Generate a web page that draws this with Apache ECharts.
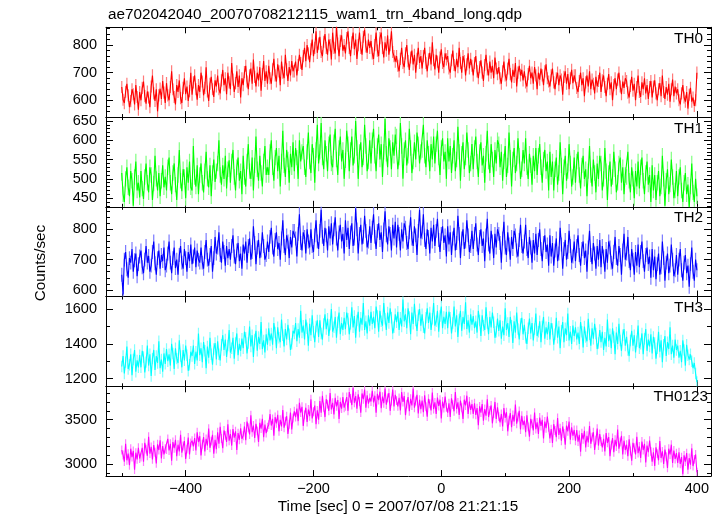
<!DOCTYPE html>
<html>
<head>
<meta charset="utf-8">
<script src="https://cdn.jsdelivr.net/npm/echarts@6/dist/echarts.min.js"></script>
<style>
html,body{margin:0;padding:0;background:#fff;}
#chart{width:724px;height:516px;}
</style>
</head>
<body>
<div id="chart"></div>
<script>
// Time sampling (sec): first bin and bin step
const T_START = -500;
const T_STEP = 2;

// Counts/sec, one array per band
const th0 = [
648,602,590,631,660,618,575,597,640,622,585,655,612,566,630,
600,645,668,615,588,632,610,575,650,690,625,598,640,560,618,642,605,670,628,590,
662,618,600,648,705,640,612,585,655,630,672,608,590,645,680,622,650,598,633,700,
620,665,690,640,602,655,630,700,668,618,645,720,632,598,660,685,640,612,672,650,
690,640,625,672,710,655,680,622,700,665,640,735,675,630,662,705,648,690,610,680,
655,702,725,668,640,690,715,660,748,685,650,700,672,720,635,695,742,670,705,660,
725,680,660,712,750,690,668,730,705,655,740,700,680,765,712,670,720,690,742,705,
705,740,690,728,765,735,710,760,790,742,800,770,738,785,820,760,790,850,772,805,
830,775,760,812,840,790,765,820,800,748,845,790,770,868,805,760,815,835,780,800,
770,825,850,790,760,810,845,785,820,750,800,845,790,765,830,855,795,772,820,790,
815,770,750,800,845,780,760,825,845,790,755,810,780,835,765,800,850,775,760,740,
760,725,705,750,790,735,720,770,800,742,710,755,780,730,765,700,750,790,735,760,
715,760,790,735,705,748,772,730,810,745,712,765,740,700,755,785,735,720,770,748,
760,715,700,745,780,728,705,750,720,790,735,700,760,742,690,730,770,715,750,725,
690,735,760,705,680,720,745,700,670,728,765,712,690,740,700,725,680,755,715,695,
720,680,660,705,740,690,672,715,750,695,665,710,685,735,650,700,725,690,710,672,
705,665,650,695,725,680,700,660,720,690,640,700,675,715,690,655,705,730,680,668,
650,690,715,665,640,680,700,655,690,675,620,685,705,660,695,640,680,710,662,690,
690,645,630,670,700,655,680,615,665,690,650,705,640,675,660,625,685,650,670,700,
630,672,690,648,615,660,695,640,665,600,655,680,640,675,700,650,622,668,645,680,
670,628,610,652,685,635,660,600,648,690,630,612,665,640,680,625,655,605,648,670,
610,650,672,625,600,640,662,615,690,630,605,648,620,660,595,640,675,615,650,625,
640,600,585,625,655,610,595,630,570,620,645,595,610,580,600,700
];
const th1 = [
515,460,440,500,530,478,455,520,495,430,505,545,470,490,452,
520,475,448,505,540,490,465,530,510,445,488,560,500,470,515,455,495,535,478,505,
470,530,555,490,460,515,540,485,445,510,575,495,468,525,505,450,530,490,545,478,
470,585,505,480,535,460,510,540,490,465,520,570,500,478,535,455,515,550,492,520,
540,600,510,485,535,500,560,475,525,548,490,545,575,505,470,530,555,495,520,460,
560,505,480,545,590,520,500,555,470,535,610,525,495,560,515,480,545,585,510,530,
510,570,600,530,495,555,580,520,560,480,545,625,535,505,575,550,490,565,530,595,
520,580,555,500,600,545,570,585,530,505,570,620,545,515,590,560,490,575,640,540,
570,645,555,525,600,565,520,590,615,540,530,595,630,550,510,580,610,545,575,500,
548,625,590,520,575,610,535,560,650,580,500,570,595,530,555,640,585,520,545,600,
540,600,630,560,520,585,615,550,590,505,570,655,565,530,605,580,525,595,560,615,
610,525,555,645,585,500,575,600,535,560,630,580,515,545,595,550,620,590,540,570,
575,640,560,530,600,565,520,590,550,610,540,590,625,555,510,580,605,545,570,500,
605,545,585,515,560,600,520,550,635,570,495,565,595,525,555,620,575,515,540,590,
525,580,610,545,505,570,595,535,560,490,565,625,545,515,590,550,505,575,540,600,
590,530,570,495,545,585,505,535,620,555,480,550,580,515,540,605,560,500,525,575,
540,605,530,500,565,535,485,560,520,580,510,560,590,530,490,550,575,520,545,470,
570,505,545,470,525,555,485,515,595,535,460,530,560,495,520,590,540,480,505,555,
490,545,570,510,475,535,560,500,525,455,520,585,510,480,550,515,465,540,500,560,
540,470,500,580,520,445,515,545,480,505,570,525,465,490,540,555,490,530,460,510,
505,570,495,465,530,500,450,520,480,545,475,530,555,495,460,515,545,485,510,440,
535,470,510,445,490,520,455,480,560,500,430,495,525,460,485,550,505,450,470,520,
455,505,530,470,440,490,515,460,485,425,480,540,465,440,500,455
];
const th2 = [
650,585,700,725,668,640,705,690,735,660,698,720,645,685,710,
730,675,655,700,745,690,712,660,680,725,760,688,650,705,730,670,715,695,740,665,
680,720,760,690,655,705,740,672,700,650,715,745,690,670,735,705,660,725,695,750,
685,710,740,675,730,700,690,740,690,670,725,765,700,680,715,745,660,705,775,720,
740,790,715,690,760,725,680,745,705,735,700,745,780,710,685,730,755,695,720,670,
750,720,760,690,745,770,700,725,810,755,685,740,765,705,730,790,745,700,715,760,
725,775,805,740,710,765,790,735,755,700,770,830,745,715,780,760,705,775,740,795,
795,770,710,785,850,755,730,790,775,720,800,760,740,800,745,725,780,830,760,735,
795,865,775,745,805,780,730,810,770,820,750,800,840,770,730,790,815,760,785,720,
830,765,805,735,790,820,745,770,870,800,720,785,815,750,775,845,795,740,760,810,
755,805,850,775,735,795,820,765,790,725,800,860,780,750,810,785,730,815,770,825,
740,815,785,730,800,760,820,805,755,735,790,840,770,745,810,780,715,795,865,770,
790,850,765,735,800,775,720,805,760,815,745,795,835,765,725,785,810,755,780,710,
810,750,790,715,770,805,730,755,845,785,705,770,800,735,760,830,780,725,745,795,
735,785,820,750,715,775,800,745,770,695,780,835,750,720,795,760,705,785,740,800,
785,755,690,770,825,740,715,790,750,700,775,735,795,780,730,710,765,815,745,720,
760,815,735,705,775,740,690,765,720,785,715,765,800,735,695,755,780,725,750,680,
780,710,755,680,730,770,695,720,805,750,670,735,765,700,725,795,745,690,710,760,
695,745,780,715,680,735,760,705,730,660,740,795,715,685,755,720,670,745,700,765,
675,745,710,660,735,690,760,740,690,670,725,775,705,680,745,715,650,730,785,700,
720,775,695,665,735,700,650,725,680,750,675,725,760,695,660,715,740,685,710,640,
735,665,710,635,685,720,650,675,760,705,630,690,720,655,680,750,700,645,665,715,
650,700,735,665,630,690,715,655,680,610,685,740,660,630,700,665
];
const th3 = [
1270,1330,1230,1295,1385,1255,1280,1340,1220,1310,1365,1240,1305,1265,1335,
1265,1360,1325,1235,1295,1390,1275,1340,1215,1315,1365,1250,1330,1290,1415,1260,1310,1240,1345,1285,
1370,1300,1340,1275,1400,1345,1255,1375,1315,1290,1420,1330,1265,1365,1305,1390,1335,1245,1280,1355,
1330,1390,1285,1355,1305,1460,1335,1375,1295,1410,1360,1260,1385,1320,1435,1340,1280,1370,1405,1310,
1415,1340,1305,1395,1450,1365,1425,1325,1390,1480,1350,1375,1435,1315,1405,1460,1335,1400,1360,1430,
1375,1470,1435,1345,1405,1500,1385,1450,1325,1425,1475,1360,1440,1400,1525,1370,1420,1350,1455,1395,
1490,1420,1460,1395,1520,1465,1375,1495,1435,1410,1540,1450,1385,1485,1425,1510,1455,1365,1400,1475,
1460,1520,1415,1485,1435,1590,1465,1505,1425,1540,1490,1390,1515,1450,1565,1470,1410,1500,1535,1440,
1535,1460,1425,1515,1570,1485,1545,1445,1510,1600,1470,1495,1555,1435,1525,1580,1455,1520,1480,1550,
1485,1580,1545,1455,1515,1610,1495,1560,1435,1535,1585,1470,1550,1510,1635,1480,1530,1460,1565,1505,
1585,1515,1555,1490,1615,1560,1470,1590,1530,1505,1635,1545,1480,1580,1520,1605,1550,1460,1495,1570,
1525,1585,1480,1550,1500,1655,1530,1570,1490,1605,1555,1455,1580,1515,1630,1535,1475,1565,1600,1505,
1570,1495,1460,1550,1605,1520,1580,1480,1545,1635,1505,1530,1590,1470,1560,1615,1490,1555,1515,1585,
1490,1585,1550,1460,1520,1615,1500,1565,1440,1540,1590,1475,1555,1515,1640,1485,1535,1465,1570,1510,
1560,1490,1530,1465,1590,1535,1445,1565,1505,1480,1610,1520,1455,1555,1495,1580,1525,1435,1470,1545,
1475,1535,1430,1500,1450,1605,1480,1520,1440,1555,1505,1405,1530,1465,1580,1485,1425,1515,1550,1455,
1510,1435,1400,1490,1545,1460,1520,1420,1485,1575,1445,1470,1530,1410,1500,1555,1430,1495,1455,1525,
1425,1520,1485,1395,1455,1550,1435,1500,1375,1475,1525,1410,1490,1450,1575,1420,1470,1400,1505,1445,
1495,1425,1465,1400,1525,1470,1380,1500,1440,1415,1545,1455,1390,1490,1430,1515,1460,1370,1405,1480,
1410,1470,1365,1435,1385,1540,1415,1455,1375,1490,1440,1340,1465,1400,1515,1420,1360,1450,1485,1390,
1440,1365,1330,1420,1475,1390,1450,1350,1415,1505,1375,1400,1460,1340,1430,1485,1360,1425,1385,1455,
1345,1440,1405,1315,1375,1470,1355,1420,1295,1395,1445,1330,1410,1370,1495,1340,1390,1320,1425,1365,
1390,1320,1360,1295,1420,1365,1275,1395,1335,1310,1340,1300,1260,1290,1230,1180
];
const th0123 = [
3160,3105,3030,3230,3045,3120,2990,3175,3080,3150,2940,3130,3055,3185,3065,
3080,3185,3030,3240,3170,3095,3310,3120,3195,3055,3215,3135,3010,3225,3160,3270,3065,3205,3110,3175,
3165,3285,3155,3230,3040,3250,3180,3275,3090,3220,3145,3330,3130,3205,3260,3060,3170,3300,3110,3240,
3265,3200,3295,3155,3360,3250,3315,3100,3225,3305,3145,3285,3210,3400,3185,3260,3330,3120,3275,3170,
3360,3230,3420,3290,3180,3380,3325,3250,3450,3265,3340,3210,3395,3300,3370,3160,3350,3275,3405,3285,
3320,3425,3270,3480,3410,3335,3550,3360,3435,3295,3455,3375,3250,3465,3400,3510,3305,3445,3350,3415,
3445,3565,3435,3510,3320,3530,3460,3555,3370,3500,3425,3610,3410,3485,3540,3340,3450,3580,3390,3520,
3595,3530,3625,3485,3690,3580,3645,3430,3555,3635,3475,3615,3540,3730,3515,3590,3660,3450,3605,3500,
3710,3580,3770,3640,3530,3730,3675,3600,3800,3615,3690,3560,3745,3650,3720,3510,3700,3625,3755,3635,
3650,3755,3600,3810,3740,3665,3860,3690,3765,3625,3785,3705,3580,3795,3730,3840,3635,3775,3680,3745,
3705,3825,3695,3770,3580,3790,3720,3815,3630,3760,3685,3850,3670,3745,3800,3600,3710,3840,3650,3780,
3715,3650,3745,3605,3810,3700,3765,3550,3675,3755,3595,3735,3660,3850,3635,3710,3780,3570,3725,3620,
3715,3585,3775,3645,3535,3735,3680,3605,3805,3620,3695,3565,3750,3655,3725,3515,3705,3630,3760,3640,
3580,3685,3530,3740,3670,3595,3810,3620,3695,3555,3715,3635,3510,3725,3660,3770,3565,3705,3610,3675,
3565,3685,3555,3630,3440,3650,3580,3675,3490,3620,3545,3730,3530,3605,3660,3460,3570,3700,3510,3640,
3535,3470,3565,3425,3630,3520,3585,3370,3495,3575,3415,3555,3480,3670,3455,3530,3600,3390,3545,3440,
3490,3360,3550,3420,3310,3510,3455,3380,3580,3395,3470,3340,3525,3430,3500,3290,3480,3405,3535,3415,
3290,3395,3240,3450,3380,3305,3520,3330,3405,3265,3425,3345,3220,3435,3370,3480,3275,3415,3320,3385,
3265,3385,3255,3330,3140,3350,3280,3375,3190,3320,3245,3430,3230,3305,3360,3160,3270,3400,3210,3340,
3255,3190,3285,3145,3350,3240,3305,3090,3215,3295,3135,3275,3200,3390,3175,3250,3320,3110,3265,3160,
3220,3090,3280,3150,3040,3240,3185,3110,3310,3125,3200,3070,3255,3160,3230,3020,3210,3135,3265,3145,
3030,3135,2980,3190,3120,3045,3260,3070,3145,3005,3165,3085,2960,3175,3110,3220,3015,3155,3060,3125,
3015,3135,3005,3080,2890,3100,3030,3125,2940,3070,2995,3180,2980,3055,3110,2910
];
// Half-length of the error bar drawn at each bin, per band
const bandErr = [22, 20, 23, 33, 50];

const bandNames = ['TH0', 'TH1', 'TH2', 'TH3', 'TH0123'];
const bandData = [th0, th1, th2, th3, th0123];

// Tick labels
const xMajorTicks = [-400, -200, 0, 200, 400];
const xMinorTicks = [-500, -300, -100, 100, 300];
const yMajorTicks = [
  [600, 700, 800],
  [450, 500, 550, 600, 650],
  [600, 700, 800],
  [1200, 1400, 1600],
  [3000, 3500]
];
const yMinorTicks = [
  [540,560,580,620,640,660,680,720,740,760,780,820,840,860],
  [430,440,460,470,480,490,510,520,530,540,560,570,580,590,610,620,630,640,660],
  [580,620,640,660,680,720,740,760,780,820,840,860],
  [1300,1500],
  [2900,3100,3200,3300,3400,3600,3700,3800]
];

// Styling / layout
const colors = ['#ff0000', '#00ff00', '#0000ff', '#00ffff', '#ff00ff'];
const errColors = ['#ff7a7a', '#80ff80', '#7a7aff', '#80ffff', '#ff80ff'];
const yRanges = [[539.3, 864.4], [427.5, 660.3], [577.9, 874.5], [1155.8, 1672.3], [2868, 3875.4]];
const xRange = [-524.7, 422.1];
const FONT = '"Liberation Sans", Arial, Helvetica, sans-serif';
const FS_TICK = 14.5;
const FS_TEXT = 15.3;
const TOP = 27.3, PH = 89.75, LEFT = 106, RIGHT = 13;

const chart = echarts.init(document.getElementById('chart'), null, {renderer: 'canvas'});

const grids = [], xAxes = [], yAxes = [], series = [], graphics = [];
const lineStyle = {color: '#000', width: 1};
const minus = v => (v < 0 ? '\u2212' + (-v) : String(v));

for (let i = 0; i < 5; i++) {
  const top = TOP + i * PH;
  grids.push({left: LEFT, right: RIGHT, top: top, height: PH, containLabel: false});
  const isLast = i === 4;
  ['bottom', 'top'].forEach(pos => {
    xAxes.push({
      type: 'value', gridIndex: i, position: pos, min: xRange[0], max: xRange[1],
      axisLine: {show: true, onZero: false, lineStyle: lineStyle},
      axisTick: {show: true, inside: true, length: 6, customValues: xMajorTicks, lineStyle: lineStyle},
      axisLabel: {show: isLast && pos === 'bottom', customValues: xMajorTicks, formatter: minus,
        color: '#000', fontSize: FS_TICK, fontFamily: FONT, margin: 5},
      splitLine: {show: false}
    });
    xAxes.push({
      type: 'value', gridIndex: i, position: pos, min: xRange[0], max: xRange[1],
      axisLine: {show: false, onZero: false},
      axisTick: {show: true, inside: true, length: 3, customValues: xMinorTicks, lineStyle: lineStyle},
      axisLabel: {show: false},
      splitLine: {show: false}
    });
  });
  ['left', 'right'].forEach(pos => {
    yAxes.push({
      type: 'value', gridIndex: i, position: pos, min: yRanges[i][0], max: yRanges[i][1],
      axisLine: {show: true, onZero: false, lineStyle: lineStyle},
      axisTick: {show: true, inside: true, length: 7, customValues: yMajorTicks[i], lineStyle: lineStyle},
      axisLabel: {show: pos === 'left', customValues: yMajorTicks[i], formatter: v => String(v),
        color: '#000', fontSize: FS_TICK, fontFamily: FONT, margin: 9},
      splitLine: {show: false}
    });
    yAxes.push({
      type: 'value', gridIndex: i, position: pos, min: yRanges[i][0], max: yRanges[i][1],
      axisLine: {show: false, onZero: false},
      axisTick: {show: true, inside: true, length: 4, customValues: yMinorTicks[i], lineStyle: lineStyle},
      axisLabel: {show: false},
      splitLine: {show: false}
    });
  });
  const pts = bandData[i].map((v, k) => [T_START + k * T_STEP, v]);
  const err = bandErr[i];
  const ec = errColors[i];
  series.push({
    type: 'custom', xAxisIndex: 4 * i, yAxisIndex: 4 * i, data: pts, clip: true, silent: true, z: 1,
    renderItem: (params, api) => {
      const x = api.value(0), y = api.value(1);
      const a = api.coord([x, y - err]);
      const b = api.coord([x, y + err]);
      return {type: 'line', shape: {x1: a[0], y1: a[1], x2: b[0], y2: b[1]},
        style: {stroke: ec, lineWidth: 1.2}};
    }
  });
  series.push({
    type: 'line', xAxisIndex: 4 * i, yAxisIndex: 4 * i, data: pts,
    showSymbol: false, symbol: 'none', silent: true, z: 2,
    lineStyle: {color: colors[i], width: 1.1}
  });
  graphics.push({
    type: 'text', x: i === 4 ? 708 : 703, y: top + (i === 4 ? 10 : 11.3), z: 10,
    style: {text: bandNames[i], fill: '#000', font: FS_TEXT + 'px ' + FONT, align: 'right', verticalAlign: 'middle'}
  });
}

graphics.push({
  type: 'text', x: 108, y: 15,
  style: {text: 'ae702042040_20070708212115_wam1_trn_4band_long.qdp', fill: '#000',
    font: FS_TEXT + 'px ' + FONT, align: 'left', verticalAlign: 'middle'}
});
graphics.push({
  type: 'text', x: 41, y: 263, rotation: Math.PI / 2,
  style: {text: 'Counts/sec', fill: '#000', font: FS_TEXT + 'px ' + FONT, align: 'center', verticalAlign: 'middle'}
});
graphics.push({
  type: 'text', x: 398, y: 507,
  style: {text: 'Time [sec] 0 = 2007/07/08 21:21:15', fill: '#000',
    font: FS_TEXT + 'px ' + FONT, align: 'center', verticalAlign: 'middle'}
});

chart.setOption({
  animation: false,
  backgroundColor: '#fff',
  grid: grids,
  xAxis: xAxes,
  yAxis: yAxes,
  series: series,
  graphic: graphics
});
</script>
</body>
</html>
